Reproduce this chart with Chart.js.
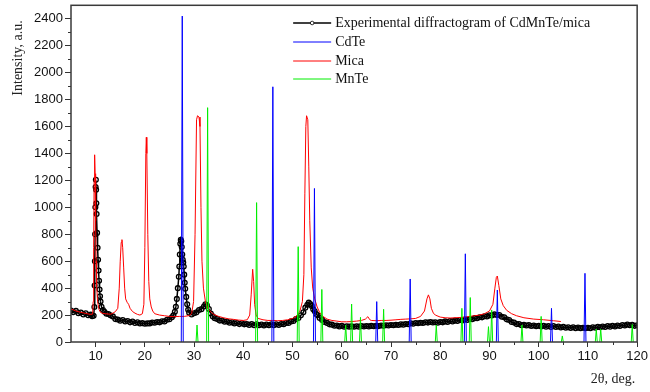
<!DOCTYPE html>
<html>
<head>
<meta charset="utf-8">
<script src="https://cdn.jsdelivr.net/npm/chart.js@4.4.1/dist/chart.umd.min.js"></script>
<style>
  html, body { margin: 0; padding: 0; background: #fff; }
  #wrap { width: 650px; height: 392px; }
</style>
</head>
<body>
<div id="wrap"><canvas id="xrdChart" width="650" height="392"></canvas></div>
<script>
// experimental diffractogram (2theta, intensity)
const expAngle = [
  5.0, 5.5, 6.0, 6.5, 7.0, 7.5, 8.0, 8.5, 9.0, 9.3, 9.6, 9.75, 9.8, 9.85, 9.9, 9.95,
  10.0, 10.05, 10.1, 10.15, 10.2, 10.3, 10.4, 10.5, 10.6, 10.7, 10.8, 10.9, 11.0, 11.2, 11.5, 11.8,
  12.2, 12.6, 13.0, 13.5, 14.0, 14.5, 15.0, 15.5, 16.0, 16.5, 17.0, 17.5, 18.0, 18.5, 19.0, 19.5,
  20.0, 20.5, 21.0, 21.5, 22.0, 22.5, 23.0, 23.5, 24.0, 24.5, 25.0, 25.5, 25.8, 26.1, 26.3, 26.5,
  26.7, 26.9, 27.0, 27.1, 27.2, 27.3, 27.4, 27.5, 27.6, 27.7, 27.8, 27.9, 28.0, 28.1, 28.2, 28.4,
  28.6, 28.8, 29.0, 29.5, 30.0, 30.5, 31.0, 31.5, 32.0, 32.3, 32.6, 33.0, 33.4, 33.8, 34.2, 34.7,
  35.2, 35.7, 36.2, 36.7, 37.2, 37.7, 38.2, 38.7, 39.2, 39.7, 40.2, 40.7, 41.2, 41.7, 42.2, 42.7,
  43.2, 43.7, 44.2, 44.7, 45.2, 45.7, 46.2, 46.7, 47.2, 47.7, 48.2, 48.7, 49.2, 49.7, 50.2, 50.7,
  51.2, 51.7, 52.2, 52.6, 53.0, 53.3, 53.6, 53.9, 54.2, 54.5, 54.8, 55.1, 55.5, 56.0, 56.5, 57.0,
  57.5, 58.0, 58.5, 59.0, 59.5, 60.0, 60.5, 61.0, 61.5, 62.0, 62.5, 63.0, 63.5, 64.0, 64.5, 65.0,
  65.5, 66.0, 66.5, 67.0, 67.5, 68.0, 68.5, 69.0, 69.5, 70.0, 70.5, 71.0, 71.5, 72.0, 72.5, 73.0,
  73.5, 74.0, 74.5, 75.0, 75.5, 76.0, 76.5, 77.0, 77.5, 78.0, 78.5, 79.0, 79.5, 80.0, 80.5, 81.0,
  81.5, 82.0, 82.5, 83.0, 83.5, 84.0, 84.5, 85.0, 85.5, 86.0, 86.5, 87.0, 87.5, 88.0, 88.5, 89.0,
  89.5, 90.0, 90.5, 91.0, 91.5, 92.0, 92.5, 93.0, 93.5, 94.0, 94.5, 95.0, 95.5, 96.0, 96.5, 97.0,
  97.5, 98.0, 98.5, 99.0, 99.5, 100.0, 100.5, 101.0, 101.5, 102.0, 102.5, 103.0, 103.5, 104.0, 104.5, 105.0,
  105.5, 106.0, 106.5, 107.0, 107.5, 108.0, 108.5, 109.0, 109.5, 110.0, 110.5, 111.0, 111.5, 112.0, 112.5, 113.0,
  113.5, 114.0, 114.5, 115.0, 115.5, 116.0, 116.5, 117.0, 117.5, 118.0, 118.5, 119.0, 119.5, 120.0
];
const expIntensity = [
  234, 222, 231, 214, 219, 205, 213, 199, 203, 191, 195, 260, 420, 600, 800, 1000,
  1150, 1204, 1130, 1030, 950, 810, 700, 610, 530, 455, 390, 340, 300, 262, 238, 224,
  210, 208, 198, 190, 170, 167, 158, 163, 152, 156, 146, 152, 141, 146, 137, 140,
  135, 138, 138, 145, 143, 148, 146, 154, 153, 165, 169, 184, 198, 225, 262, 320,
  400, 485, 560, 650, 730, 758, 748, 705, 650, 610, 590, 560, 500, 440, 395, 335,
  280, 240, 218, 204, 214, 220, 238, 244, 264, 280, 272, 245, 212, 190, 176, 170,
  159, 160, 150, 152, 143, 146, 137, 141, 133, 139, 131, 134, 127, 133, 125, 131,
  124, 130, 123, 130, 124, 131, 125, 132, 126, 134, 132, 141, 141, 153, 156, 171,
  178, 199, 220, 255, 276, 292, 281, 268, 243, 228, 208, 198, 178, 164, 148, 142,
  131, 129, 121, 123, 116, 120, 113, 117, 114, 116, 113, 117, 114, 118, 115, 119,
  116, 120, 117, 121, 118, 122, 120, 124, 122, 126, 124, 128, 126, 131, 129, 133,
  132, 139, 135, 141, 139, 143, 141, 147, 144, 148, 145, 147, 143, 149, 146, 153,
  149, 156, 153, 159, 156, 163, 160, 167, 164, 171, 169, 177, 176, 184, 183, 191,
  190, 198, 197, 205, 201, 201, 188, 183, 168, 163, 148, 144, 133, 133, 125, 128,
  122, 125, 119, 123, 117, 121, 115, 121, 114, 118, 112, 118, 111, 115, 108, 112,
  106, 110, 104, 110, 103, 107, 103, 106, 102, 105, 102, 109, 106, 112, 109, 115,
  111, 118, 114, 121, 115, 122, 119, 126, 123, 130, 124, 127, 120, 124
];

// mica reference pattern
const micaAngle = [
  5.0, 6.0, 7.0, 8.0, 9.0, 9.4, 9.5, 9.6, 9.7, 9.8, 9.9, 10.0, 10.1, 10.2, 10.4, 10.7,
  11.0, 11.5, 12.0, 12.5, 13.0, 13.5, 14.0, 14.5, 14.8, 15.0, 15.2, 15.35, 15.5, 15.7, 15.9, 16.1,
  16.4, 16.7, 17.0, 17.5, 18.0, 18.5, 19.0, 19.5, 19.8, 20.0, 20.2, 20.3, 20.4, 20.6, 20.8, 21.0,
  21.3, 21.6, 22.0, 23.0, 24.0, 25.0, 26.0, 27.0, 28.0, 29.0, 29.5, 29.9, 30.2, 30.5, 30.7, 31.0,
  31.2, 31.4, 31.6, 31.9, 32.3, 32.8, 33.5, 34.0, 35.0, 36.0, 37.0, 38.0, 39.0, 40.0, 40.8, 41.3,
  41.6, 41.9, 42.1, 42.3, 42.6, 43.0, 44.0, 45.0, 46.0, 47.0, 48.0, 49.0, 50.0, 50.5, 51.0, 51.5,
  52.0, 52.3, 52.5, 52.7, 52.85, 53.1, 53.3, 53.5, 53.8, 54.1, 54.5, 55.0, 55.5, 56.0, 57.0, 58.0,
  59.0, 60.0, 61.0, 62.0, 63.0, 64.0, 64.8, 65.3, 65.7, 66.0, 67.0, 68.0, 69.0, 70.0, 71.0, 72.0,
  73.0, 74.0, 75.0, 76.0, 76.8, 77.3, 77.6, 77.9, 78.2, 78.6, 79.0, 80.0, 81.0, 82.0, 83.0, 84.0,
  85.0, 86.0, 87.0, 88.0, 89.0, 90.0, 90.7, 91.1, 91.4, 91.6, 91.9, 92.3, 92.8, 93.5, 94.5, 95.5,
  97.0, 99.0, 101.0, 103.0, 104.5
];
const micaIntensity = [
  246, 230, 220, 212, 204, 208, 300, 700, 1200, 1390, 1250, 900, 600, 420, 300, 240,
  220, 212, 210, 208, 206, 214, 225, 250, 400, 600, 740, 760, 700, 550, 400, 320,
  295, 280, 250, 226, 214, 205, 200, 210, 280, 700, 1400, 1520, 1400, 800, 450, 320,
  260, 230, 210, 200, 195, 190, 188, 190, 190, 196, 210, 300, 800, 1650, 1680, 1670,
  1600, 1000, 600, 400, 300, 250, 220, 205, 190, 180, 172, 168, 163, 160, 165, 200,
  350, 540, 450, 280, 200, 175, 165, 160, 160, 158, 160, 165, 175, 185, 200, 230,
  300, 500, 1100, 1600, 1680, 1650, 1300, 900, 550, 400, 320, 260, 220, 195, 170, 160,
  155, 150, 150, 152, 155, 160, 170, 188, 165, 160, 158, 160, 160, 162, 165, 168,
  170, 172, 175, 190, 230, 320, 350, 320, 250, 215, 200, 185, 180, 178, 180, 182,
  185, 190, 195, 200, 210, 230, 280, 400, 480, 490, 420, 320, 270, 235, 210, 195,
  180, 170, 165, 158, 152
];

// CdTe reference lines
const cdteAngle = [27.6, 46.0, 54.45, 67.1, 73.9, 85.1, 91.6, 102.6, 109.4];
const cdteIntensity = [2420, 1895, 1140, 300, 468, 655, 386, 250, 510];

// MnTe reference lines
const mnteAngle = [30.6, 32.75, 42.7, 51.15, 55.95, 60.8, 62.0, 63.8, 68.5, 79.2,
  84.4, 86.1, 89.8, 90.45, 96.6, 100.5, 104.8, 111.7, 112.6, 119.0];
const mnteIntensity = [126, 1740, 1035, 708, 390, 126, 282, 183, 243, 126,
  250, 330, 114, 238, 126, 190, 45, 95, 95, 130];

const seriesLabels = [
  "Experimental diffractogram of CdMnTe/mica",
  "CdTe",
  "Mica",
  "MnTe"
];

// axis ticks
const xTickValues = [10, 20, 30, 40, 50, 60, 70, 80, 90, 100, 110, 120];
const yTickValues = [0, 200, 400, 600, 800, 1000, 1200, 1400, 1600, 1800, 2000, 2200, 2400];

const seriesColors = ["#000000", "#0000ff", "#ff0000", "#00ee00"];

function toPoints(xs, ys) {
  return xs.map((x, i) => ({ x: x, y: ys[i] }));
}

// each reference line as a narrow spike, separated by gaps
function toSticks(xs, ys) {
  const pts = [];
  xs.forEach((x, i) => {
    pts.push({ x: x - 0.2, y: 0 }, { x: x, y: ys[i] }, { x: x + 0.2, y: 0 }, { x: x + 0.21, y: null });
  });
  return pts;
}

const SERIF = "'Liberation Serif', 'Times New Roman', serif";
const SANS = "'Liberation Sans', Arial, sans-serif";

const decorPlugin = {
  id: "decor",
  afterDatasetsDraw(chart) {
    const ctx = chart.ctx;
    const a = chart.chartArea;
    const xs = chart.scales.x;
    const ys = chart.scales.y;

    ctx.save();
    // minor ticks
    ctx.strokeStyle = "#333";
    ctx.lineWidth = 1;
    ctx.beginPath();
    for (let v = 15; v < 120; v += 10) {
      const px = Math.round(xs.getPixelForValue(v)) + 0.5;
      ctx.moveTo(px, a.bottom);
      ctx.lineTo(px, a.bottom + 3);
    }
    for (let v = 100; v < 2500; v += 200) {
      const py = Math.round(ys.getPixelForValue(v)) + 0.5;
      ctx.moveTo(a.left, py);
      ctx.lineTo(a.left - 3, py);
    }
    ctx.stroke();

    // frame
    ctx.strokeStyle = "#3a3a3a";
    ctx.lineWidth = 1.5;
    ctx.strokeRect(a.left, a.top, a.right - a.left, a.bottom - a.top);

    // legend
    const lx0 = a.right - 344, lx1 = a.right - 306, tx = a.right - 302;
    const rows = [a.top + 18, a.top + 37, a.top + 55.5, a.top + 74];
    ctx.font = "14px " + SERIF;
    ctx.textBaseline = "middle";
    ctx.textAlign = "left";
    seriesLabels.forEach((label, i) => {
      const y = Math.round(rows[i]);
      ctx.strokeStyle = seriesColors[i];
      ctx.lineWidth = i === 0 ? 1.5 : 1;
      ctx.beginPath();
      ctx.moveTo(lx0, y);
      ctx.lineTo(lx1, y);
      ctx.stroke();
      if (i === 0) {
        ctx.fillStyle = "#fff";
        ctx.beginPath();
        ctx.arc((lx0 + lx1) / 2, y, 1.8, 0, Math.PI * 2);
        ctx.fill();
        ctx.lineWidth = 0.8;
        ctx.stroke();
      }
      ctx.fillStyle = "#111";
      ctx.fillText(label, tx, y);
    });

    // axis titles
    ctx.fillStyle = "#222";
    ctx.font = "14px " + SERIF;
    ctx.save();
    ctx.translate(18, 58);
    ctx.rotate(-Math.PI / 2);
    ctx.textAlign = "center";
    ctx.fillText("Intensity, a.u.", 0, 0);
    ctx.restore();
    ctx.textAlign = "right";
    ctx.fillText("2\u03b8, deg.", a.right - 2, 379);
    ctx.restore();
  }
};

const ctx = document.getElementById("xrdChart").getContext("2d");

new Chart(ctx, {
  type: "line",
  data: {
    datasets: [
      {
        label: seriesLabels[0],
        data: toPoints(expAngle, expIntensity),
        borderColor: seriesColors[0],
        borderWidth: 1.5,
        pointRadius: 2.4,
        pointBorderWidth: 1.3,
        pointBackgroundColor: "rgba(255,255,255,0)",
        pointBorderColor: seriesColors[0],
        tension: 0,
        order: 3
      },
      {
        label: seriesLabels[1],
        data: toSticks(cdteAngle, cdteIntensity),
        borderColor: seriesColors[1],
        borderWidth: 1,
        pointRadius: 0,
        spanGaps: false,
        order: 1
      },
      {
        label: seriesLabels[2],
        data: toPoints(micaAngle, micaIntensity),
        borderColor: seriesColors[2],
        borderWidth: 1,
        pointRadius: 0,
        order: 2
      },
      {
        label: seriesLabels[3],
        data: toSticks(mnteAngle, mnteIntensity),
        borderColor: seriesColors[3],
        borderWidth: 1,
        pointRadius: 0,
        spanGaps: false,
        order: 0
      }
    ]
  },
  options: {
    responsive: false,
    animation: false,
    devicePixelRatio: 1,
    layout: { padding: { left: 0, right: 11, top: 5, bottom: 0 } },
    plugins: {
      legend: { display: false },
      tooltip: { enabled: false }
    },
    scales: {
      x: {
        type: "linear",
        min: 5,
        max: 120,
        afterBuildTicks: (s) => { s.ticks = xTickValues.map(v => ({ value: v })); },
        afterFit: (s) => { s.height = 50; },
        ticks: {
          color: "#111",
          padding: 2,
          maxRotation: 0,
          autoSkip: false,
          callback: (v) => String(v),
          font: { family: SANS, size: 13 }
        },
        grid: { drawOnChartArea: false, tickLength: 5, tickColor: "#333", tickWidth: 1 },
        border: { display: false }
      },
      y: {
        type: "linear",
        min: 0,
        max: 2500,
        afterBuildTicks: (s) => { s.ticks = yTickValues.map(v => ({ value: v })); },
        afterFit: (s) => { s.width = 71; s.paddingTop = 0; s.paddingBottom = 0; },
        ticks: {
          color: "#111",
          padding: 2,
          autoSkip: false,
          callback: (v) => String(v),
          font: { family: SANS, size: 13 }
        },
        grid: { drawOnChartArea: false, tickLength: 6, tickColor: "#333", tickWidth: 1 },
        border: { display: false }
      }
    }
  },
  plugins: [decorPlugin]
});
</script>
</body>
</html>
